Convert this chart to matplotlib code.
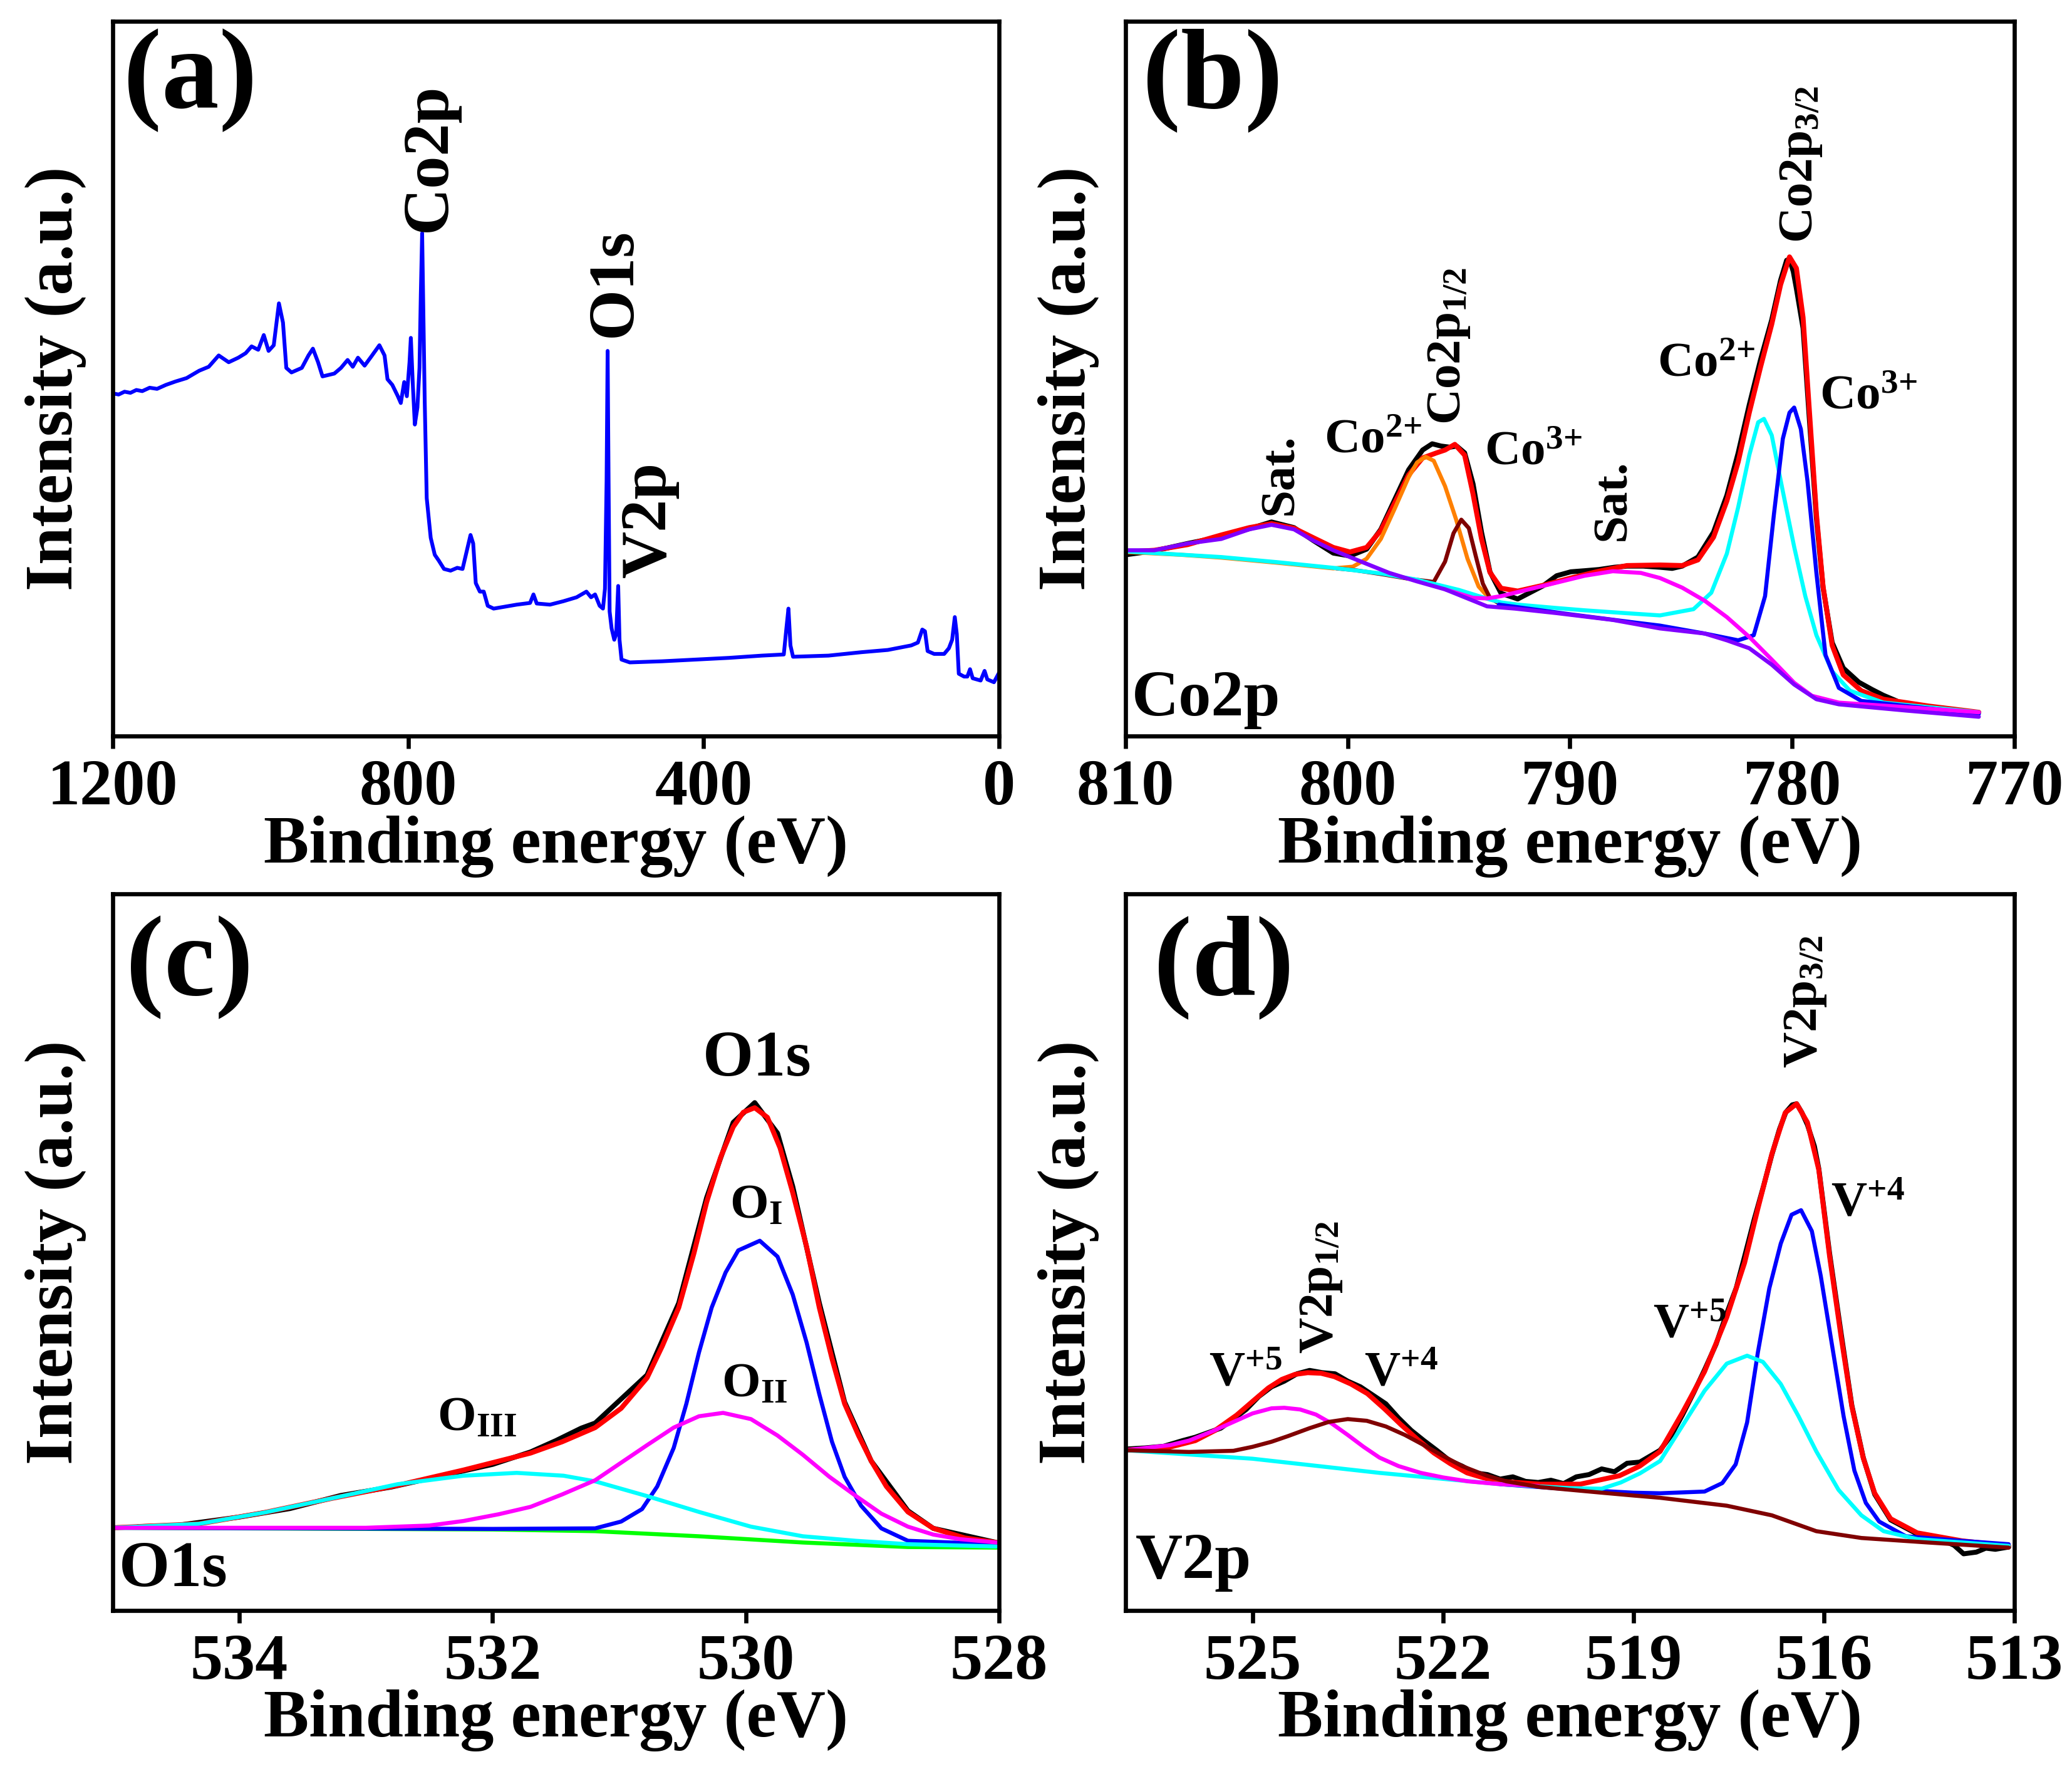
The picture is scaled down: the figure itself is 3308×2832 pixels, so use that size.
import matplotlib
matplotlib.use("Agg")
import matplotlib.pyplot as plt

plt.rcParams['font.family'] = ['Liberation Serif', 'DejaVu Serif']
plt.rcParams['font.weight'] = 'bold'
plt.rcParams['axes.labelweight'] = 'bold'
plt.rcParams['mathtext.fontset'] = 'custom'
plt.rcParams['mathtext.rm'] = 'Liberation Serif:bold'
plt.rcParams['mathtext.it'] = 'Liberation Serif:bold:italic'
plt.rcParams['mathtext.bf'] = 'Liberation Serif:bold'
plt.rcParams['lines.solid_joinstyle'] = 'round'
plt.rcParams['lines.solid_capstyle'] = 'round'

# ---------------- (a) survey spectrum ----------------
survey_ev = [1200, 1192, 1184, 1176, 1168, 1160, 1150, 1140, 1128, 1115, 1100, 1083, 1070,
             1056.5, 1043, 1030, 1020, 1012, 1003, 995.5, 989, 982, 975, 969.5, 965, 958,
             944, 935, 929, 922, 916, 900, 891, 882, 875, 868, 859, 850, 839, 832, 828,
             821.5, 814, 810, 805.4, 801.8, 798.2, 796.4, 793.7, 791, 787.5, 784.7, 782.9,
             781.1, 779.4, 777.6, 774.9, 769.5, 764, 758.7, 751.5, 742.6, 733.6, 726.4,
             721, 715.6, 712, 708.5, 703, 697.7, 692.3, 684.3, 670.8, 653, 635, 630.4,
             626, 608, 590, 572, 558.7, 552.4, 547, 540.8, 536.3, 533.6, 531.4, 530,
             528.7, 527.3, 524.6, 521, 518.4, 515.7, 513.9, 511.2, 500, 456, 411, 366, 321,
             291.5, 288, 285.2, 282.5, 279, 231, 186.5, 150.6, 119, 110, 104, 100.4, 96.8,
             88, 74.4, 68, 63.6, 60, 57.3, 54.6, 47.5, 43, 39.4, 35.8, 25, 19.7, 16, 7, 0]
survey_int = [605, 603, 608, 606, 611, 609, 615, 613, 620, 626, 632, 645, 652,
              672, 660, 668, 676, 688, 682, 708, 680, 690, 764, 730, 650, 642,
              650, 672, 684, 660, 635, 640, 650, 664, 652, 668, 654, 670, 690, 672, 630,
              620, 600, 588, 625, 600, 660, 703, 620, 550, 580, 650, 780,
              888, 740, 590, 420, 350, 320, 310, 295, 292, 297, 295,
              325, 355, 340, 270, 255, 255, 230, 225, 228, 232, 235, 250,
              234, 232, 238, 245, 255, 245, 250, 230, 225, 260, 450, 680,
              450, 220, 190, 170, 180, 265, 170, 135, 130, 132, 135, 138, 142,
              144, 190, 225, 160, 140, 142, 148, 152, 160, 165, 188, 185, 150,
              145, 145, 155, 170, 210, 180, 110, 105, 105, 118, 102, 98, 115, 100, 95, 112]

# ---------------- (b) Co 2p ----------------
co_raw_ev = [810.0, 808.7, 807.2, 805.69, 804.43, 803.43, 802.42, 801.54, 800.65, 799.9,
             799.15, 798.51, 797.88, 797.26, 796.63, 796.2, 795.8, 795.4, 795.1, 794.74,
             794.36, 793.98, 793.6, 793.1, 792.35, 791.22, 790.6, 789.96, 789.3, 788.7,
             788.0, 787.44, 786.7, 785.95, 785.4, 784.95, 784.24, 783.54, 782.94, 782.43,
             781.93, 781.42, 780.92, 780.52, 780.25, 780.12, 779.95, 779.81, 779.51, 779.21,
             778.91, 778.61, 778.2, 777.7, 777.0, 776.4, 775.9, 775.3]
co_raw_int = [320, 327, 340, 352, 366, 378, 368, 345, 323, 318,
              330, 365, 418, 470, 505, 516, 512, 510, 512, 500,
              445, 360, 290, 252, 242, 265, 283, 290, 292, 294,
              298, 300, 300, 298, 296, 300, 316, 360, 425, 500,
              585, 665, 735, 805, 840, 842, 820, 790, 720, 550,
              385, 262, 165, 120, 95, 82, 72, 62]

co_fit_ev = [810.0, 808.7, 807.2, 805.69, 804.43, 803.43, 802.42, 801.54, 800.65, 799.9,
             799.15, 798.51, 797.88, 797.26, 796.63, 796.0, 795.62, 795.18, 794.74, 794.36,
             793.98, 793.6, 793.1, 792.35, 791.22, 789.96, 788.7, 787.44, 785.95, 784.95,
             784.24, 783.54, 782.94, 782.43, 781.93, 781.42, 780.92, 780.52, 780.12, 779.81,
             779.51, 779.21, 778.91, 778.61, 778.2, 777.7, 776.89, 775.89, 773.87, 771.6]
co_fit_int = [325, 328, 338, 355, 368, 375, 367, 350, 333, 325,
              333, 363, 412, 461, 491, 500, 505, 515, 496, 427,
              348, 289, 261, 256, 266, 279, 291, 301, 302, 301,
              311, 351, 415, 484, 571, 652, 727, 797, 846, 826,
              739, 565, 392, 264, 160, 108, 80, 65, 53, 42]

co2_12_ev = [810.0, 807.5, 805.69, 803.18, 800.65, 799.77, 799.15, 798.51, 797.88, 797.26,
             796.88, 796.5, 796.13, 795.62, 795.12, 794.61, 794.11, 793.6, 793.1, 792.35]
co2_12_int = [325, 320, 315, 306, 296, 299, 313, 348, 402, 457,
              483, 493, 486, 441, 382, 313, 264, 242, 235, 232]

co3_12_ev = [800.5, 799.7, 798.5, 797.3, 796.13, 795.62, 795.24, 794.89, 794.55, 794.24,
             793.92, 793.6, 793.23]
co3_12_int = [296, 293, 286, 278, 272, 308, 358, 382, 367, 318,
              269, 244, 235]

co2_32_ev = [810.0, 805.69, 803.18, 800.65, 798.5, 796.88, 795.0, 793.6, 793.1, 792.35,
             790.59, 789.34, 787.5, 785.95, 784.44, 783.64, 782.94, 782.43, 781.93, 781.53,
             781.27, 780.92, 780.42, 779.91, 779.41, 778.91, 778.2, 777.4, 775.89, 771.6]
co2_32_int = [326, 316, 307, 297, 287, 276, 258, 241, 236, 232,
              226, 222, 217, 213, 224, 253, 322, 404, 496, 554,
              560, 531, 432, 334, 247, 178, 114, 80, 59, 42]

co3_32_ev = [793.2, 790.0, 787.0, 785.95, 783.94, 782.43, 781.73, 781.22, 780.82, 780.42,
             780.12, 779.91, 779.61, 779.31, 778.91, 778.5, 777.9, 776.89, 771.6]
co3_32_int = [232, 215, 200, 195, 181, 169, 178, 247, 392, 525,
              571, 580, 542, 450, 288, 143, 85, 62, 39]

co_sat_ev = [795.62, 794.36, 793.73, 793.1, 791.85, 790.59, 789.34, 788.07, 786.81, 785.95,
             784.95, 783.94, 782.94, 781.93, 780.92, 779.91, 779.11, 777.9, 774.88, 771.6]
co_sat_int = [259, 244, 243, 247, 259, 271, 283, 291, 288, 279,
              262, 239, 210, 175, 135, 94, 71, 59, 51, 42]

co_bg_ev = [810.0, 808.7, 807.2, 805.69, 804.43, 803.43, 802.42, 801.54, 800.65, 799.4,
            798.13, 796.88, 795.62, 794.36, 793.73, 792.47, 790.59, 788.07, 785.95, 783.94,
            782.94, 781.93, 780.92, 779.91, 778.91, 777.9, 774.88, 771.6]
co_bg_int = [328, 328, 340, 348, 365, 373, 365, 345, 328, 308,
             288, 273, 259, 239, 229, 225, 217, 205, 190, 181,
             169, 155, 126, 91, 65, 56, 45, 34]

# ---------------- (c) O 1s ----------------
o_raw_ev = [534.8, 534.5, 534.0, 533.6, 533.2, 532.8, 532.4, 532.0, 531.7, 531.5, 531.3,
            531.19, 530.78, 530.53, 530.31, 530.10, 529.93, 529.75, 529.63, 529.42, 529.22,
            529.01, 528.72, 528.52, 528.02]
o_raw_int = [148, 150, 165, 180, 203, 218, 238, 258, 280, 300, 322,
             331, 416, 543, 729, 862, 897, 843, 749, 543, 368,
             264, 176, 145, 120]

o_fit_ev = [535.0, 534.32, 533.8, 533.27, 532.75, 532.23, 531.7, 531.45, 531.19, 530.985,
            530.78, 530.66, 530.53, 530.41, 530.31, 530.2, 530.1, 530.02, 529.93, 529.83,
            529.73, 529.63, 529.52, 529.42, 529.32, 529.22, 529.11, 529.01, 528.89, 528.72,
            528.52, 528.27, 528.02]
o_fit_int = [146, 153, 173, 198, 221, 248, 278, 298, 323, 357,
             411, 467, 535, 631, 721, 800, 854, 880, 888, 871,
             817, 738, 642, 535, 445, 365, 309, 264, 219, 174,
             145, 128, 120]

o1_ev = [535.0, 532.0, 531.19, 530.985, 530.82, 530.7, 530.57, 530.47, 530.37, 530.27,
         530.16, 530.06, 529.89, 529.75, 529.63, 529.52, 529.42, 529.32, 529.22, 529.09,
         528.93, 528.72, 528.02]
o1_int = [146, 144, 145, 157, 179, 219, 287, 365, 456, 535,
          597, 636, 653, 625, 558, 473, 382, 298, 236, 185,
          145, 123, 117]

o2_ev = [535.0, 533.0, 532.5, 532.23, 531.95, 531.7, 531.45, 531.19, 530.985, 530.78,
         530.57, 530.37, 530.18, 529.96, 529.75, 529.55, 529.34, 529.13, 528.93, 528.72,
         528.52, 528.31, 528.02]
o2_int = [146, 146, 150, 158, 170, 183, 205, 230, 261, 292,
          323, 343, 349, 338, 309, 275, 236, 202, 171, 148,
          134, 126, 120]

o3_ev = [535.0, 534.32, 533.8, 533.27, 532.75, 532.23, 531.81, 531.44, 531.19, 530.78,
         530.37, 529.96, 529.55, 529.13, 528.72, 528.02]
o3_int = [146, 153, 173, 198, 223, 238, 243, 238, 228, 202,
          174, 148, 131, 123, 117, 113]

o_bg_ev = [535.0, 532.0, 531.19, 530.37, 529.55, 528.72, 528.02]
o_bg_int = [146, 143, 140, 131, 120, 112, 111]

# ---------------- (d) V 2p ----------------
v_raw_ev = [527.0, 526.7, 526.4, 526.1, 525.9, 525.7, 525.5, 525.3, 525.1, 524.9, 524.7,
            524.5, 524.3, 524.1, 523.9, 523.7, 523.5, 523.3, 523.1, 522.9, 522.7, 522.5,
            522.3, 522.1, 521.9, 521.7, 521.5, 521.3, 521.1, 520.9, 520.7, 520.5, 520.3,
            520.1, 519.9, 519.7, 519.5, 519.3, 519.1, 518.9, 518.58, 518.4, 518.23, 518.05,
            517.88, 517.7, 517.53, 517.38, 517.25, 517.1, 516.95, 516.82, 516.7, 516.6,
            516.5, 516.43, 516.35, 516.26, 516.15, 516.08, 515.91, 515.73, 515.56, 515.38,
            515.2, 514.95, 514.53, 514.2, 513.95, 513.8, 513.6, 513.45, 513.3, 513.09]
v_raw_int = [285, 287, 290, 300, 306, 314, 322, 338, 355, 378, 395,
             405, 418, 424, 420, 418, 405, 395, 380, 365, 340, 318,
             300, 283, 265, 255, 243, 240, 232, 236, 228, 226, 230,
             224, 236, 240, 250, 245, 260, 262, 283, 310, 345, 385,
             425, 470, 525, 570, 625, 690, 750, 805, 850, 880,
             893, 895, 880, 858, 820, 780, 630, 490, 362, 270,
             205, 160, 135, 128, 115, 100, 103, 110, 108, 112]

v_fit_ev = [527.0, 526.32, 525.9, 525.59, 525.25, 524.96, 524.75, 524.54, 524.33, 524.13,
            523.92, 523.71, 523.45, 523.19, 522.92, 522.66, 522.4, 522.14, 521.88, 521.62,
            521.35, 521.1, 520.47, 519.84, 519.22, 518.9, 518.58, 518.23, 517.88, 517.53,
            517.25, 517.04, 516.82, 516.61, 516.43, 516.26, 516.08, 515.91, 515.73, 515.56,
            515.38, 515.2, 514.95, 514.53, 513.83, 513.09]
v_fit_int = [283, 288, 300, 318, 345, 373, 393, 408, 417, 420,
             419, 413, 400, 383, 356, 328, 302, 278, 259, 243,
             234, 228, 223, 223, 238, 255, 281, 349, 422, 518,
             614, 710, 806, 879, 895, 862, 778, 625, 484, 360,
             269, 207, 162, 137, 123, 114]

v5_12_ev = [527.0, 526.3, 526.0, 525.6, 525.3, 525.0, 524.7, 524.5, 524.25, 524.0,
            523.75, 523.5, 523.25, 523.0, 522.7, 522.35, 522.0, 521.6, 521.1, 520.5]
v5_12_int = [283, 292, 300, 318, 333, 348, 357, 358, 355, 346,
             330, 310, 289, 270, 255, 243, 235, 228, 223, 220]

v4_12_ev = [527.0, 526.0, 525.3, 525.0, 524.7, 524.44, 524.1, 523.8, 523.5, 523.2,
            522.9, 522.6, 522.3, 522.0, 521.7, 521.31, 521.0, 520.47, 519.5, 519.0,
            518.58, 517.53, 516.82, 516.12, 515.41, 514.36, 513.09]
v4_12_int = [283, 280, 282, 289, 298, 308, 322, 333, 338, 335,
             325, 310, 292, 273, 255, 238, 228, 218, 208, 203,
             199, 185, 168, 140, 128, 120, 111]

v5_32_ev = [527.0, 525.0, 523.0, 521.1, 520.0, 519.5, 519.2, 518.9, 518.58, 518.23,
            517.88, 517.53, 517.21, 516.96, 516.68, 516.4, 516.12, 515.77, 515.41, 515.06,
            514.53, 513.09]
v5_32_int = [283, 268, 243, 223, 216, 215, 226, 242, 264, 326,
             388, 436, 450, 439, 400, 343, 281, 213, 168, 140,
             126, 114]

v4_32_ev = [521.1, 520.0, 519.0, 518.58, 517.88, 517.6, 517.39, 517.21, 517.04, 516.86,
            516.68, 516.51, 516.36, 516.19, 516.05, 515.87, 515.69, 515.52, 515.34, 515.13,
            514.71, 513.83, 513.09]
v4_32_int = [223, 214, 208, 207, 210, 225, 258, 332, 456, 569,
             648, 699, 707, 670, 591, 467, 343, 247, 190, 157,
             131, 123, 117]


def style_axis(ax, xlim, xticks, ylim):
    ax.set_xlim(*xlim)
    ax.set_ylim(*ylim)
    ax.set_xticks(xticks)
    ax.set_yticks([])
    ax.tick_params(axis='x', direction='out', length=4.8, width=1.6, pad=4, labelsize=25)
    for sp in ax.spines.values():
        sp.set_linewidth(1.6)
    ax.set_xlabel('Binding energy (eV)', fontsize=26, fontweight='bold', labelpad=-1)
    ax.set_ylabel('Intensity (a.u.)', fontsize=26, fontweight='bold', labelpad=10)


fig = plt.figure(figsize=(3308 / 300, 2832 / 300), dpi=300)
ax_a = fig.add_axes([0.0544, 0.5851, 0.4278, 0.4029])
ax_b = fig.add_axes([0.5432, 0.5851, 0.4290, 0.4029])
ax_c = fig.add_axes([0.0544, 0.0922, 0.4278, 0.4040])
ax_d = fig.add_axes([0.5432, 0.0922, 0.4290, 0.4040])

# line widths: raw data, envelope, fitted components
lw_raw, lw_fit, lw_c = 1.9, 1.9, 1.55
small = 19
big = 25

# (a)
ax_a.plot(survey_ev, survey_int, color='#0000FF', lw=1.45)
style_axis(ax_a, (1200, 0), [1200, 800, 400, 0], (0, 1262))
ax_a.text(0.012, 0.99, '(a)', transform=ax_a.transAxes, fontsize=44, va='top', ha='left')
ax_a.text(771, 890, 'Co2p', rotation=90, fontsize=big, ha='center', va='bottom')
ax_a.text(520, 705, 'O1s', rotation=90, fontsize=big, ha='center', va='bottom')
ax_a.text(473.5, 280, 'V2p', rotation=90, fontsize=big, ha='center', va='bottom')

# (b)
ax_b.plot(co_raw_ev, co_raw_int, color='black', lw=lw_raw)
ax_b.plot(co_fit_ev, co_fit_int, color='#FF0000', lw=lw_fit)
ax_b.plot(co2_12_ev, co2_12_int, color='#FF8000', lw=lw_c)
ax_b.plot(co3_12_ev, co3_12_int, color='#800000', lw=lw_c)
ax_b.plot(co2_32_ev, co2_32_int, color='#00FFFF', lw=lw_c)
ax_b.plot(co3_32_ev, co3_32_int, color='#0000FF', lw=lw_c)
ax_b.plot(co_sat_ev, co_sat_int, color='#FF00FF', lw=lw_c)
ax_b.plot(co_bg_ev, co_bg_int, color='#8000FF', lw=lw_c)
style_axis(ax_b, (810, 770), [810, 800, 790, 780, 770], (0, 1262))
ax_b.text(0.019, 0.99, '(b)', transform=ax_b.transAxes, fontsize=44, va='top', ha='left')
ax_b.text(0.007, 0.01, 'Co2p', transform=ax_b.transAxes, fontsize=big, va='bottom', ha='left')
ax_b.text(803.0, 390, 'Sat.', rotation=90, fontsize=small, ha='center', va='bottom')
ax_b.text(801.06, 500, r'Co$^{\mathrm{2{+}}}$', fontsize=small, ha='left', va='baseline')
ax_b.text(795.45, 550, r'Co2p$_{\mathrm{1/2}}$', rotation=90, fontsize=small, ha='center', va='bottom')
ax_b.text(793.85, 480, r'Co$^{\mathrm{3{+}}}$', fontsize=small, ha='left', va='baseline')
ax_b.text(788.05, 345, 'Sat.', rotation=90, fontsize=small, ha='center', va='bottom')
ax_b.text(786.07, 635, r'Co$^{\mathrm{2{+}}}$', fontsize=small, ha='left', va='baseline')
ax_b.text(779.6, 870, r'Co2p$_{\mathrm{3/2}}$', rotation=90, fontsize=small, ha='center', va='bottom')
ax_b.text(778.77, 578, r'Co$^{\mathrm{3{+}}}$', fontsize=small, ha='left', va='baseline')

# (c)
ax_c.plot(o_raw_ev, o_raw_int, color='black', lw=lw_raw)
ax_c.plot(o_fit_ev, o_fit_int, color='#FF0000', lw=lw_fit)
ax_c.plot(o_bg_ev, o_bg_int, color='#00FF00', lw=lw_c)
ax_c.plot(o1_ev, o1_int, color='#0000FF', lw=lw_c)
ax_c.plot(o3_ev, o3_int, color='#00FFFF', lw=lw_c)
ax_c.plot(o2_ev, o2_int, color='#FF00FF', lw=lw_c)
style_axis(ax_c, (535, 528), [534, 532, 530, 528], (0, 1266))
ax_c.text(0.015, 0.97, '(c)', transform=ax_c.transAxes, fontsize=44, va='top', ha='left')
ax_c.text(0.007, 0.015, 'O1s', transform=ax_c.transAxes, fontsize=big, va='bottom', ha='left')
ax_c.text(529.91, 945, 'O1s', fontsize=big, ha='center', va='baseline')
ax_c.text(530.13, 693, r'O$_{\mathrm{I}}$', fontsize=small, ha='left', va='baseline')
ax_c.text(530.19, 378, r'O$_{\mathrm{II}}$', fontsize=small, ha='left', va='baseline')
ax_c.text(532.44, 318, r'O$_{\mathrm{III}}$', fontsize=small, ha='left', va='baseline')

# (d)
ax_d.plot(v_raw_ev, v_raw_int, color='black', lw=lw_raw)
ax_d.plot(v_fit_ev, v_fit_int, color='#FF0000', lw=lw_fit)
ax_d.plot(v4_32_ev, v4_32_int, color='#0000FF', lw=lw_c)
ax_d.plot(v5_32_ev, v5_32_int, color='#00FFFF', lw=lw_c)
ax_d.plot(v5_12_ev, v5_12_int, color='#FF00FF', lw=lw_c)
ax_d.plot(v4_12_ev, v4_12_int, color='#800000', lw=lw_c)
style_axis(ax_d, (527, 513), [525, 522, 519, 516, 513], (0, 1266))
ax_d.text(0.032, 0.97, '(d)', transform=ax_d.transAxes, fontsize=44, va='top', ha='left')
ax_d.text(0.011, 0.026, 'V2p', transform=ax_d.transAxes, fontsize=big, va='bottom', ha='left')
ax_d.text(516.29, 958, r'V2p$_{\mathrm{3/2}}$', rotation=90, fontsize=small, ha='center', va='bottom')
ax_d.text(515.89, 698, r'V$^{\mathrm{+4}}$', fontsize=small, ha='left', va='baseline')
ax_d.text(518.69, 483, r'V$^{\mathrm{+5}}$', fontsize=small, ha='left', va='baseline')
ax_d.text(525.69, 398, r'V$^{\mathrm{+5}}$', fontsize=small, ha='left', va='baseline')
ax_d.text(523.92, 453, r'V2p$_{\mathrm{1/2}}$', rotation=90, fontsize=small, ha='center', va='bottom')
ax_d.text(523.24, 398, r'V$^{\mathrm{+4}}$', fontsize=small, ha='left', va='baseline')

fig.savefig('out.png', dpi=300, facecolor='white')
